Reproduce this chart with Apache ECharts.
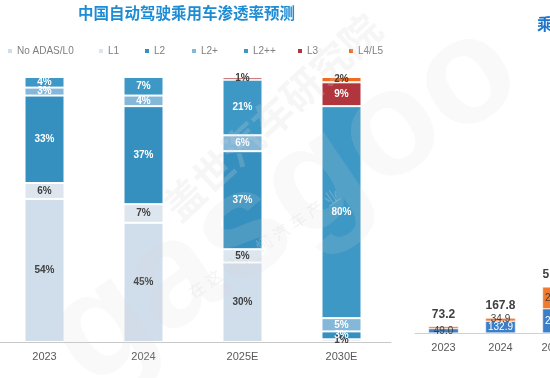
<!DOCTYPE html>
<html>
<head>
<meta charset="utf-8">
<script src="https://cdn.jsdelivr.net/npm/echarts@6/dist/echarts.min.js"></script>
<style>
html, body { margin: 0; padding: 0; background: #fff; }
#chart { width: 550px; height: 378px; }
</style>
</head>
<body>
<div id="chart"></div>
<script>
// 渗透率（%），自下而上堆叠
var years = ["2023", "2024", "2025E", "2030E"];
var levels = ["No ADAS/L0", "L1", "L2", "L2+", "L2++", "L3", "L4/L5"];
var noAdas = [54, 45, 30, 0];
var l1 = [6, 7, 5, 1];
var l2 = [33, 37, 37, 3];
var l2p = [3, 4, 6, 5];
var l2pp = [4, 7, 21, 80];
var l3 = [0, 0, 1, 9];
var l45 = [0, 0, 0, 2];

// 右侧图（画面被截断）
var years2 = ["2023", "2024", "2025E"];
var blueVals = [49.0, 132.9, 272.4];
var orangeVals = [24.2, 34.9, 245.3];

var levelData = [noAdas, l1, l2, l2p, l2pp, l3, l45];
var colors = ["#d0ddeb", "#dde5ee", "#3690bf", "#85b7d8", "#3e98c6", "#b0353c", "#ef6c20"];
var textColors = ["#404040", "#404040", "#fff", "#fff", "#fff", "#fff", "#404040"];
var legendLeft = [6, 97, 143, 190, 242, 296, 347];
var font = "Liberation Sans, Noto Sans CJK SC, sans-serif";

var myChart = echarts.init(document.getElementById("chart"));

var series = levels.map(function (name, i) {
  return {
    name: name,
    type: "bar",
    stack: "share",
    barWidth: 40,
    xAxisIndex: 0,
    yAxisIndex: 0,
    itemStyle: { color: colors[i], borderColor: "#fff", borderWidth: 1 },
    label: {
      show: true,
      formatter: "{c}%",
      fontSize: 10,
      fontWeight: "bold",
      color: textColors[i]
    },
    data: levelData[i].map(function (v) {
      if (v === 0) return "-";
      // 太窄的段，标签用深色
      return v <= 2 ? { value: v, label: { color: "#404040" } } : v;
    })
  };
});

var totals = blueVals.map(function (v, i) {
  return Math.round((v + orangeVals[i]) * 10) / 10;
});

series.push({
  name: "blue",
  type: "bar",
  stack: "r",
  xAxisIndex: 1,
  yAxisIndex: 1,
  barWidth: 30,
  barGap: "-100%",
  itemStyle: { color: "#3c7fc8", borderColor: "#fff", borderWidth: 0.5 },
  label: {
    show: true,
    fontSize: 10,
    color: "#fff",
    formatter: function (p) { return p.value.toFixed(1); }
  },
  data: blueVals.map(function (v) {
    return v < 60 ? { value: v, label: { color: "#404040" } } : v;
  })
});
series.push({
  name: "orange",
  type: "bar",
  stack: "r",
  xAxisIndex: 1,
  yAxisIndex: 1,
  barWidth: 30,
  barGap: "-100%",
  itemStyle: { color: "#f07a2e", borderColor: "#fff", borderWidth: 0.5 },
  label: {
    show: true,
    fontSize: 10,
    color: "#404040",
    formatter: function (p) { return p.value < 30 ? "" : p.value.toFixed(1); }
  },
  data: orangeVals
});
series.push({
  name: "total",
  type: "bar",
  xAxisIndex: 1,
  yAxisIndex: 1,
  barWidth: 30,
  barGap: "-100%",
  z: 1,
  itemStyle: { color: "rgba(0,0,0,0)" },
  label: {
    show: true,
    position: "top",
    distance: 6,
    fontSize: 12,
    fontWeight: "bold",
    color: "#404040"
  },
  data: totals
});

var option = {
  animation: false,
  textStyle: { fontFamily: font },
  title: [
    {
      text: "中国自动驾驶乘用车渗透率预测",
      left: 78,
      top: 7,
      padding: 0,
      textStyle: { fontSize: 15.5, fontWeight: "bold", color: "#1e8cd4", fontFamily: font }
    },
    {
      text: "乘用车",
      left: 537,
      top: 18,
      padding: 0,
      textStyle: { fontSize: 15.5, fontWeight: "bold", color: "#1e74c8", fontFamily: font }
    }
  ],
  legend: levels.map(function (name, i) {
    return {
      data: [name],
      left: legendLeft[i],
      top: 46,
      padding: 0,
      icon: "rect",
      itemWidth: 6,
      itemHeight: 6,
      selectedMode: false,
      textStyle: { fontSize: 10, color: "#7f7f7f", padding: [0, 0, 0, -1] }
    };
  }),
  grid: [
    { left: -5, width: 396, top: 77, bottom: 36, outerBoundsMode: "none" },
    { left: 415, width: 171, top: 60, bottom: 45, outerBoundsMode: "none" }
  ],
  xAxis: [
    {
      gridIndex: 0,
      type: "category",
      data: years,
      axisLine: { lineStyle: { color: "#c8c8c8", width: 1 } },
      axisTick: { show: false },
      axisLabel: { fontSize: 11, color: "#595959", margin: 9 }
    },
    {
      gridIndex: 1,
      type: "category",
      data: years2,
      axisLine: { lineStyle: { color: "#d0d0d0", width: 1 } },
      axisTick: { show: false },
      axisLabel: { fontSize: 11, color: "#595959", margin: 9 }
    }
  ],
  yAxis: [
    { gridIndex: 0, type: "value", min: 0, max: 100, show: false },
    { gridIndex: 1, type: "value", min: 0, max: 3070, show: false }
  ],
  // 水印
  graphic: [
    {
      type: "text", x: 285, y: 205, rotation: 0.6, silent: true, z: 100,
      style: { text: "gasgoo", fontSize: 150, fontWeight: "bold", fontFamily: font,
        fill: "rgba(215,215,215,0.15)", align: "center", verticalAlign: "middle" }
    },
    {
      type: "text", x: 275, y: 120, rotation: 0.75, silent: true, z: 100,
      style: { text: "盖世汽车研究院", fontSize: 40, fontWeight: "bold", fontFamily: font,
        fill: "rgba(215,215,215,0.22)", align: "center", verticalAlign: "middle" }
    },
    {
      type: "text", x: 265, y: 245, rotation: 0.6, silent: true, z: 100,
      style: { text: "在 这 里 ， 懂 汽 车 产 业", fontSize: 16, fontFamily: font,
        fill: "rgba(215,215,215,0.3)", align: "center", verticalAlign: "middle" }
    }
  ],
  series: series
};

myChart.setOption(option);
window.addEventListener("resize", function () {
  myChart.resize();
});
</script>
</body>
</html>
